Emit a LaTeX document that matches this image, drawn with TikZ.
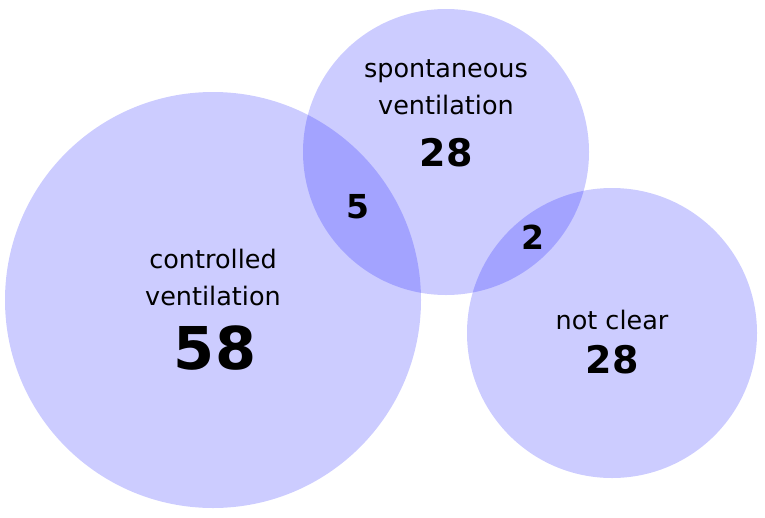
\documentclass[tikz,border=0pt]{standalone}
\usepackage{fontspec}
\setmainfont{DejaVu Sans}
\begin{document}
\begin{tikzpicture}[x=1pt,y=-1pt,
  setc/.style={fill=blue, fill opacity=0.2, draw=none},
  lab/.style={align=center, font=\fontsize{25.5}{37}\selectfont, text=black},
  num/.style={font=\bfseries\fontsize{#1}{#1}\selectfont, text=black}]
\useasboundingbox (0,0) rectangle (765,517);
\fill[setc] (213,300) circle (208);
\fill[setc] (446,152) circle (143);
\fill[setc] (612,333) circle (145);
\node[lab] (cv) at (213,277) {controlled\\ventilation};
\node[num=59] (n58) at (215,348) {58};
\node[lab] (sv) at (446,87) {spontaneous\\ventilation};
\node[num=38] (n28a) at (446,153) {28};
\node[lab] (nc) at (612,320) {not clear};
\node[num=38] (n28b) at (612,360) {28};
\node[num=33] (n5) at (358,207) {5};
\node[num=33] (n2) at (533,237) {2};
\end{tikzpicture}
\end{document}
